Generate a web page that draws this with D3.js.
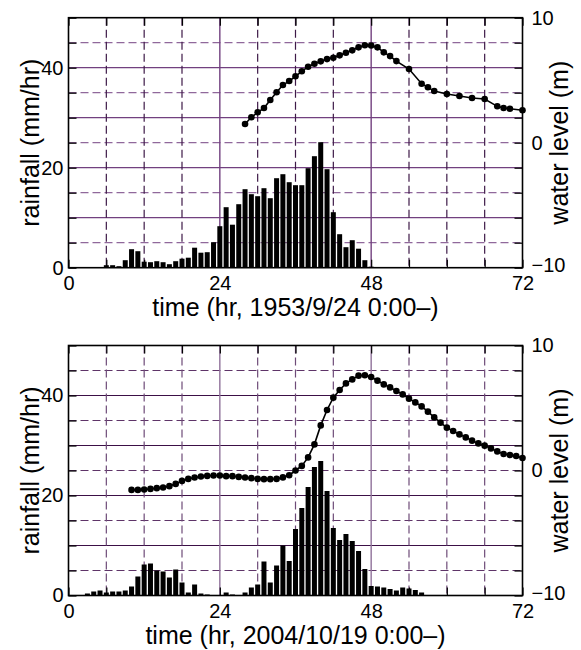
<!DOCTYPE html>
<html><head><meta charset="utf-8">
<script src="https://cdn.jsdelivr.net/npm/d3@7"></script>
<style>body{margin:0;background:#fff} text{font-family:"Liberation Sans",Arial,Helvetica,sans-serif}</style>
</head><body>
<svg id="c" width="581" height="650"></svg>
<script>
// ---- Data: panel 1 (1953/9/24) ----
const rainHours1 = [6,7,8,9,10,11,12,13,14,15,16,17,18,19,20,21,22,23,24,25,26,27,28,29,30,31,32,33,34,35,36,37,38,39,40,41,42,43,44,45,46,47,48];
const rain1 = [0.5,0.5,0.3,1.5,3.7,3.3,1.2,1.1,1.3,1.1,0.7,1.3,1.8,2.0,4.0,3.0,3.1,5.1,8.3,12.1,8.6,12.7,15.7,14.7,14.3,15.9,13.9,17.9,18.7,17.1,16.5,16.5,19.9,22.3,25.1,19.7,11.1,6.7,4.1,5.5,3.8,1.5,0.2];
const levelHours1 = [28,29,30,31,32,33,34,35,36,37,38,39,40,41,42,43,44,45,46,47,48,49,50,51,52,54,56,57,58,60,62,64,66,68,69,70,72];
const level1 = [1.49,2.03,2.43,2.77,3.41,4.03,4.61,4.93,5.31,5.71,6.08,6.32,6.51,6.69,6.8,6.99,7.2,7.39,7.63,7.8,7.78,7.63,7.23,6.93,6.53,5.89,4.72,4.43,4.13,3.89,3.73,3.57,3.49,2.91,2.77,2.72,2.59];

// ---- Data: panel 2 (2004/10/19) ----
const rainHours2 = [3,4,5,6,7,8,9,10,11,12,13,14,15,16,17,18,19,20,21,22,25,26,28,29,30,31,32,33,34,35,36,37,38,39,40,41,42,43,44,45,46,47,48,49,50,51,52,53,54,55,56];
const rain2 = [0.4,0.8,1.0,0.6,0.8,0.8,1.0,1.8,3.8,6.2,6.4,5.0,4.8,3.6,5.2,2.6,0.6,2.2,0.4,0.2,0.6,0.2,0.6,1.6,2.2,6.8,2.6,6.0,10.0,6.9,13.3,17.5,21.7,25.7,26.9,20.9,13.5,11.1,12.3,10.9,8.9,5.3,1.9,1.8,1.6,1.3,1.0,1.6,1.4,1.1,0.6];
const levelHours2 = [10,11,12,13,14,15,16,17,18,19,20,21,22,23,24,25,26,27,28,29,30,31,32,33,34,35,36,37,38,39,40,41,42,43,44,45,46,47,48,49,50,51,52,53,54,55,56,57,58,59,60,61,62,63,64,65,66,67,68,69,70,71,72];
const level2 = [-1.55,-1.55,-1.52,-1.47,-1.41,-1.36,-1.25,-1.07,-0.83,-0.67,-0.56,-0.48,-0.43,-0.40,-0.40,-0.45,-0.45,-0.51,-0.56,-0.61,-0.67,-0.69,-0.69,-0.67,-0.55,-0.38,0.0,0.37,1.05,2.09,3.61,4.84,5.83,6.44,6.97,7.29,7.59,7.62,7.48,7.19,6.89,6.65,6.36,6.09,5.75,5.45,5.13,4.71,4.25,3.83,3.43,3.16,2.89,2.65,2.39,2.17,1.99,1.77,1.53,1.32,1.24,1.16,1.00];

// ---- Axis ticks ----
const xTicks = [0,6,12,18,24,30,36,42,48,54,60,66,72];
const xLabels = [0,24,48,72];
const rainTicks = [0,5,10,15,20,25,30,35,40,45,50];
const rainLabels = [0,20,40];
const levelTicks = [-10,-8,-6,-4,-2,0,2,4,6,8,10];
const levelLabels = [-10,0,10];
const titles = ["time (hr, 1953/9/24 0:00–)", "time (hr, 2004/10/19 0:00–)"];

const panels = [
  {top:17.7, rh:rainHours1, r:rain1, lh:levelHours1, l:level1, title:titles[0],
   hSolid:"#72407f", hDash:"#90689b", vSolid:"#72407f", vDash:"#3e1a48"},
  {top:345.5, rh:rainHours2, r:rain2, lh:levelHours2, l:level2, title:titles[1],
   hSolid:"#3c1046", hDash:"#5e3468", vSolid:"#8f719a", vDash:"#6e4b78"}
];

const svg = d3.select("#c");
const L = 68.5, R = 522.5, H = 250;
const x = d3.scaleLinear().domain([0,72]).range([L,R]);
const fmtMinus = d => d < 0 ? "\u2212" + Math.abs(d) : String(d);

panels.forEach(p => {
  const yR = d3.scaleLinear().domain([0,50]).range([p.top+H, p.top]);
  const yL = d3.scaleLinear().domain([-10,10]).range([p.top+H, p.top]);
  const g = svg.append("g");

  rainTicks.filter(v => v>0 && v<50).forEach(v => {
    const solid = v % 10 === 0;
    g.append("line").attr("x1",L).attr("x2",R).attr("y1",yR(v)).attr("y2",yR(v))
      .attr("stroke", solid ? p.hSolid : p.hDash).attr("stroke-width", 1.2)
      .attr("stroke-dasharray", solid ? null : "8,4");
  });
  xTicks.filter(v => v>0 && v<72).forEach(v => {
    const solid = v % 24 === 0;
    g.append("line").attr("x1",x(v)).attr("x2",x(v)).attr("y1",p.top).attr("y2",p.top+H)
      .attr("stroke", solid ? p.vSolid : p.vDash).attr("stroke-width", solid ? 1.4 : 1.2)
      .attr("stroke-dasharray", solid ? null : "8,4");
  });

  const bw = 5;
  g.selectAll("rect.bar").data(p.rh.map((h,i)=>({h, v:p.r[i]}))).join("rect")
    .attr("class","bar")
    .attr("x", d => x(d.h) - bw/2).attr("width", bw)
    .attr("y", d => yR(d.v)).attr("height", d => yR(0) - yR(d.v))
    .attr("fill","#000");

  const pts = p.lh.map((h,i)=>({h, v:p.l[i]}));
  g.append("path").datum(pts)
    .attr("d", d3.line().x(d=>x(d.h)).y(d=>yL(d.v)))
    .attr("fill","none").attr("stroke","#000").attr("stroke-width",1.6);
  g.selectAll("circle").data(pts).join("circle")
    .attr("cx", d=>x(d.h)).attr("cy", d=>yL(d.v)).attr("r", 3.3).attr("fill","#000");

  const ax = (axis, tx, ty) => {
    const a = g.append("g").attr("transform",`translate(${tx},${ty})`).call(axis);
    a.select(".domain").remove();
    a.selectAll("line").attr("stroke","#000").attr("stroke-width",1.2);
    a.selectAll("text").attr("font-size",20).attr("fill","#000")
      .style("font-family",'"Liberation Sans",Arial,sans-serif');
    return a;
  };
  ax(d3.axisBottom(x).tickValues(xTicks).tickSize(-8).tickPadding(8)
      .tickFormat(d => xLabels.includes(d) ? String(d) : ""), 0, p.top+H);
  ax(d3.axisTop(x).tickValues(xTicks).tickSize(-8).tickFormat(""), 0, p.top);
  ax(d3.axisLeft(yR).tickValues(rainTicks).tickSize(-8).tickPadding(5)
      .tickFormat(d => rainLabels.includes(d) ? String(d) : ""), L, 0);
  const ra = ax(d3.axisRight(yL).tickValues(levelTicks).tickSize(-8).tickPadding(9)
      .tickFormat(d => levelLabels.includes(d) ? fmtMinus(d) : ""), R, 0);
  ra.selectAll("text").filter(d => d === -10).attr("dy","0.2em");

  g.append("rect").attr("x",L).attr("y",p.top).attr("width",R-L).attr("height",H)
    .attr("fill","none").attr("stroke","#000").attr("stroke-width",1.6);

  const cy = p.top + H/2;
  g.append("text").attr("transform",`translate(39,${cy}) rotate(-90)`)
    .attr("text-anchor","middle").attr("font-size",25).text("rainfall (mm/hr)");
  g.append("text").attr("transform",`translate(550,${cy}) rotate(-90)`)
    .attr("text-anchor","middle").attr("dy","0.72em").attr("font-size",25).text("water level (m)");
  g.append("text").attr("x",(L+R)/2).attr("y",p.top+H+48)
    .attr("text-anchor","middle").attr("font-size",25).text(p.title);
});
</script>
</body></html>
